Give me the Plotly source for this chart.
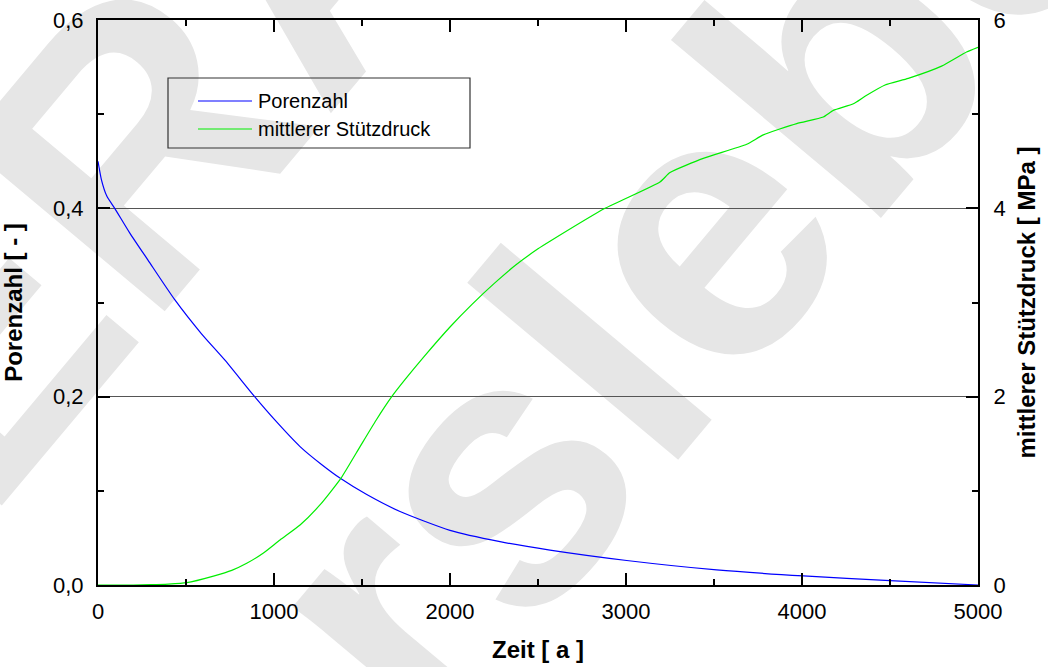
import plotly.graph_objects as go

# ---- data ----
t_poren = [0, 20, 50, 95, 180, 284, 436, 587, 720, 890, 1006, 1148, 1270, 1379,
           1527, 1716, 2000, 2284, 2568, 3004, 3515, 4008, 4500, 5000]
porenzahl = [0.450, 0.430, 0.413, 0.400, 0.374, 0.345, 0.303, 0.267, 0.239, 0.200,
             0.175, 0.147, 0.128, 0.113, 0.096, 0.078, 0.058, 0.046, 0.037, 0.026,
             0.016, 0.0096, 0.0046, 0.0]

t_druck = [0, 200, 300, 400, 504, 656, 760, 845, 940, 1034, 1148, 1261, 1379, 1489,
           1580, 1669, 1744, 1850, 2000, 2125, 2250, 2375, 2500, 2568, 2881, 3193,
           3250, 3439, 3686, 3780, 3970, 4121, 4178, 4292, 4358, 4472, 4604, 4793,
           4935, 5000]
druck = [0.0, 0.0, 0.003, 0.01, 0.025, 0.095, 0.155, 0.23, 0.34, 0.478, 0.637, 0.85,
         1.13, 1.47, 1.75, 2.0, 2.18, 2.42, 2.74, 2.98, 3.20, 3.40, 3.57, 3.65, 4.0,
         4.28, 4.38, 4.53, 4.68, 4.78, 4.90, 4.97, 5.04, 5.11, 5.19, 5.31, 5.38, 5.51,
         5.66, 5.71]

x_ticks = [0, 1000, 2000, 3000, 4000, 5000]
name_poren = "Porenzahl"
name_druck = "mittlerer Stützdruck"
x_title = "Zeit [ a ]"
y_title = "Porenzahl [ - ]"
y2_title = "mittlerer Stützdruck [ MPa ]"
watermark_words = ["ERA", "Morsleben"]

FONT = "Liberation Sans, Arial, Helvetica, sans-serif"
C_POREN = "#0000ff"
C_DRUCK = "#00ee00"

# plot-area geometry in pixels (figure 1048 x 667)
FW, FH = 1048, 667
L, R, T, B = 98, 978, 20, 585
W, H = R - L, B - T


def px(xp):
    return (xp - L) / W


def py(yp):
    return (B - yp) / H


fig = go.Figure()
fig.add_trace(go.Scatter(x=t_poren, y=porenzahl, mode="lines", name=name_poren,
                         line=dict(color=C_POREN, width=1.2, shape="spline",
                                   smoothing=0.6), yaxis="y"))
fig.add_trace(go.Scatter(x=t_druck, y=druck, mode="lines", name=name_druck,
                         line=dict(color=C_DRUCK, width=1.2, shape="spline",
                                   smoothing=0.5), yaxis="y2"))

# watermark (light grey text behind the data)
wm_color = "#e6e6e6"
wm = [
    (watermark_words[0], 115, 110, -50, 380),
    (watermark_words[1], 560, 340, -50, 380),
]
shapes = []
annotations = []
for txt, xc, yc, ang, sz in wm:
    shapes.append(dict(type="rect", xref="paper", yref="paper",
                       x0=px(xc) - 0.001, x1=px(xc) + 0.001,
                       y0=py(yc) - 0.001, y1=py(yc) + 0.001,
                       line=dict(width=0), fillcolor="rgba(0,0,0,0)", layer="below",
                       label=dict(text="<b>" + txt + "</b>", textangle=ang,
                                  textposition="middle center",
                                  font=dict(size=sz, color=wm_color, family=FONT))))

# legend (frame, line samples and labels)
shapes.append(dict(type="rect", xref="paper", yref="paper",
                   x0=px(168), x1=px(470), y0=py(148), y1=py(78),
                   line=dict(color="#333333", width=1.2), fillcolor="rgba(0,0,0,0)",
                   layer="above"))
for (label, color), yrow in zip([(name_poren, C_POREN), (name_druck, C_DRUCK)],
                                [101, 129]):
    shapes.append(dict(type="line", xref="paper", yref="paper",
                       x0=px(198), x1=px(252), y0=py(yrow), y1=py(yrow),
                       line=dict(color=color, width=1.2), layer="above"))
    annotations.append(dict(text=label, xref="paper", yref="paper",
                            x=px(256), y=py(yrow), xanchor="left", yanchor="middle",
                            showarrow=False,
                            font=dict(family=FONT, size=20, color="black")))

axis_common = dict(showline=True, linecolor="black", linewidth=2,
                   ticks="inside", ticklen=12, tickwidth=2, tickcolor="black",
                   tickfont=dict(family=FONT, size=22, color="black"),
                   zeroline=False, automargin=False)

fig.update_layout(
    width=FW, height=FH,
    margin=dict(l=L, r=FW - R, t=T, b=FH - B, autoexpand=False),
    paper_bgcolor="white", plot_bgcolor="rgba(0,0,0,0)",
    separators=", ",
    font=dict(family=FONT, color="black"),
    showlegend=False,
    shapes=shapes,
    annotations=annotations,
    xaxis=dict(range=[0, 5000], tickvals=x_ticks, tickformat="d", mirror="ticks",
               ticklabelstandoff=6,
               minor=dict(ticks="inside", ticklen=6, tickwidth=2, dtick=500,
                          tickcolor="black", showgrid=False),
               showgrid=False,
               title=dict(text="<b>" + x_title + "</b>",
                          font=dict(family=FONT, size=24, color="black"), standoff=18),
               **axis_common),
    yaxis=dict(range=[0, 0.6], dtick=0.2, tick0=0, tickformat=".1f",
               ticklabelstandoff=8,
               showgrid=True, gridcolor="#555555", gridwidth=1,
               minor=dict(ticks="inside", ticklen=6, tickwidth=2, dtick=0.1,
                          tickcolor="black", showgrid=False),
               title=dict(text="<b>" + y_title + "</b>",
                          font=dict(family=FONT, size=24, color="black"), standoff=24),
               **axis_common),
    yaxis2=dict(range=[0, 6], dtick=2, tick0=0, overlaying="y", side="right",
                ticklabelstandoff=9,
                showgrid=False,
                minor=dict(ticks="inside", ticklen=6, tickwidth=2, dtick=1,
                           tickcolor="black", showgrid=False),
                title=dict(text="<b>" + y2_title + "</b>",
                           font=dict(family=FONT, size=24, color="black"), standoff=14),
                **axis_common),
)

fig.write_html("out.html",
               config={"displayModeBar": False},
               post_script="document.body.style.margin='0';"
                           "document.documentElement.style.margin='0';"
                           "document.body.style.overflow='hidden';")
